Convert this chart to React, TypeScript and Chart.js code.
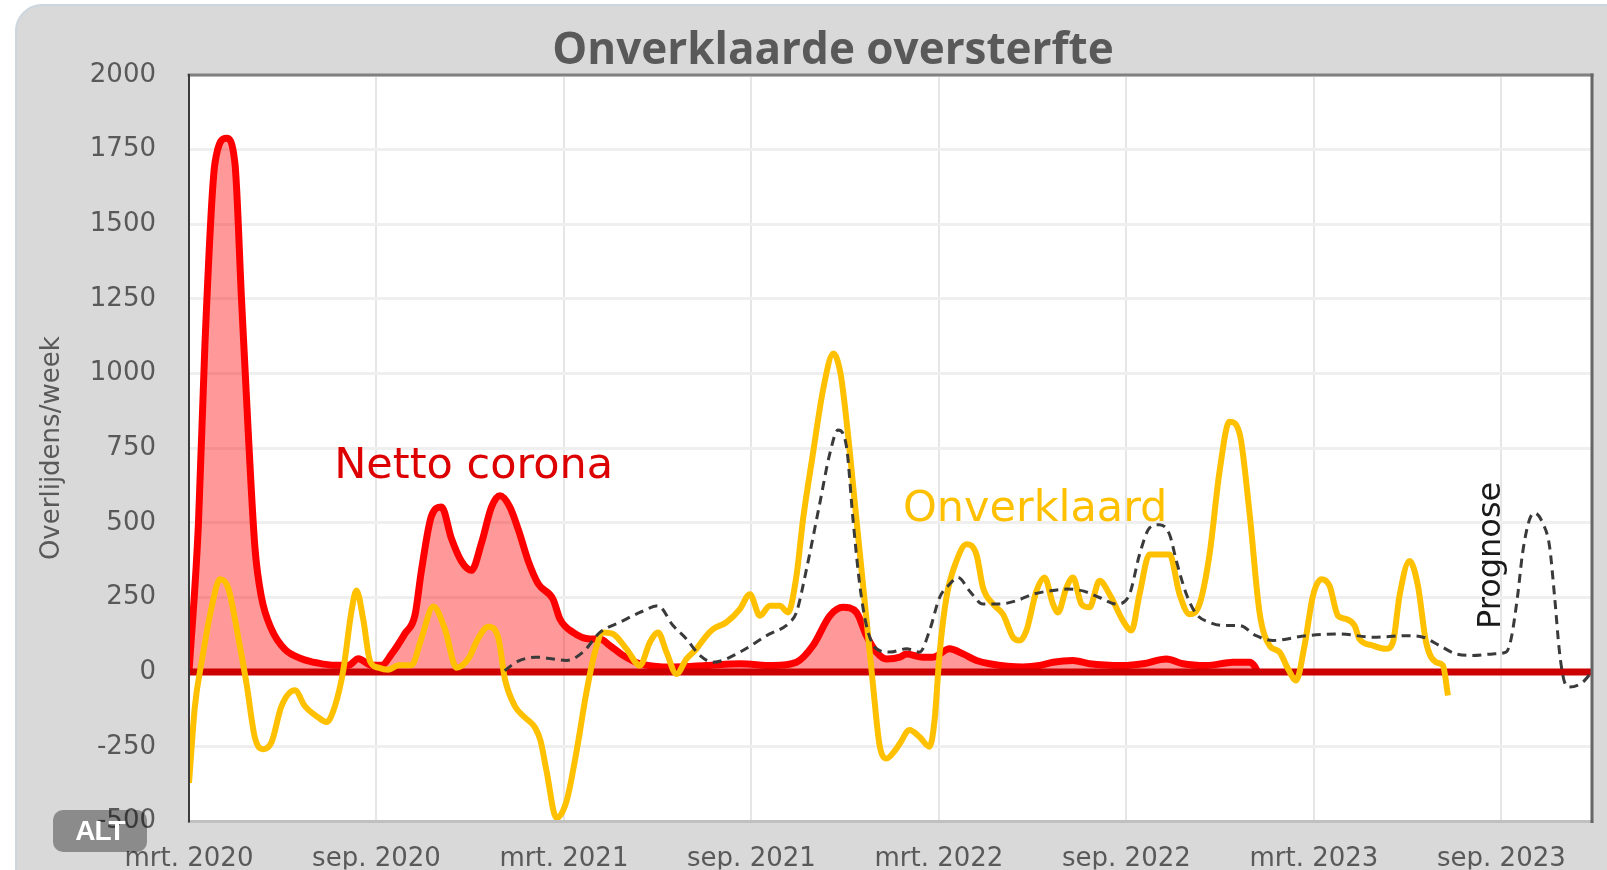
import React, { useEffect, useRef } from "react";
import { Chart, registerables } from "chart.js";

Chart.register(...registerables);

// x = months since March 2020, y = deaths per week
const tickMonths = [0, 6, 12, 18, 24, 30, 36, 42];
const tickLabels = ["mrt. 2020", "sep. 2020", "mrt. 2021", "sep. 2021", "mrt. 2022", "sep. 2022", "mrt. 2023", "sep. 2023"];

const nettoCorona: [number, number][] = [
  [0, 0], [0.3, 492], [0.51, 1098], [0.83, 1704], [1.2, 1788], [1.47, 1704], [1.68, 1250], [1.9, 795],
  [2.11, 417], [2.32, 250], [2.64, 144], [3.07, 76], [3.6, 45], [4.14, 30], [4.67, 23], [5.1, 23],
  [5.42, 45], [5.84, 23], [6.16, 23], [6.48, 60], [6.91, 129], [7.23, 190], [7.44, 341], [7.76, 523],
  [8.08, 553], [8.4, 447], [8.72, 371], [9.04, 341], [9.36, 432], [9.68, 553], [9.95, 591], [10.27, 553],
  [10.54, 477], [10.86, 371], [11.18, 295], [11.65, 244], [11.87, 178], [12.29, 133], [12.83, 111],
  [13.15, 111], [13.47, 89], [13.89, 56], [14.43, 28], [15.49, 17], [16.56, 22], [17.63, 28], [18.69, 22],
  [19.44, 33], [19.97, 89], [20.51, 189], [20.93, 217], [21.36, 200], [21.68, 122], [22.0, 67], [22.32, 44],
  [22.75, 50], [22.96, 61], [23.49, 50], [23.81, 50], [24.34, 78], [24.77, 61], [25.2, 39], [25.62, 28],
  [26.69, 17], [27.22, 22], [27.65, 33], [28.29, 39], [28.82, 28], [29.89, 22], [30.53, 28], [31.28, 44],
  [31.81, 28], [32.56, 22], [33.41, 33], [33.94, 33], [34.1, 20], [34.2, 0],
];

const onverklaard: [number, number][] = [
  [0, -371], [0.19, -114], [0.41, 38], [0.73, 220], [0.99, 311], [1.26, 280], [1.58, 114], [1.84, -38],
  [2.11, -220], [2.38, -258], [2.64, -235], [2.96, -114], [3.39, -61], [3.71, -114], [4.14, -152],
  [4.4, -167], [4.67, -114], [4.94, 8], [5.2, 205], [5.36, 273], [5.58, 174], [5.79, 38], [6.06, 15],
  [6.38, 8], [6.7, 23], [7.12, 23], [7.44, 114], [7.82, 220], [8.19, 144], [8.56, 15], [8.94, 45],
  [9.26, 114], [9.58, 152], [9.9, 114], [10.11, -23], [10.43, -114], [10.75, -152], [11.07, -185],
  [11.25, -230], [11.44, -330], [11.76, -489], [12.08, -433], [12.4, -267], [12.72, -67], [12.99, 67],
  [13.25, 133], [13.57, 128], [14.0, 78], [14.43, 22], [14.75, 100], [15.01, 133], [15.28, 67], [15.6, -6],
  [15.92, 44], [16.24, 78], [16.56, 122], [16.77, 144], [17.2, 167], [17.63, 211], [17.95, 261],
  [18.27, 189], [18.59, 222], [18.91, 222], [19.17, 200], [19.44, 322], [19.65, 511], [19.97, 733],
  [20.3, 950], [20.62, 1067], [20.85, 1000], [21.04, 844], [21.36, 511], [21.68, 178], [21.89, -44],
  [22.1, -244], [22.32, -289], [22.64, -256], [22.75, -239], [23.06, -194], [23.38, -217], [23.7, -250],
  [23.86, -161], [24.02, 61], [24.24, 250], [24.56, 372], [24.88, 428], [25.2, 394], [25.41, 283],
  [25.73, 228], [26.05, 194], [26.37, 117], [26.58, 106], [26.8, 139], [27.12, 272], [27.38, 317],
  [27.65, 228], [27.81, 200], [28.08, 283], [28.29, 317], [28.56, 228], [28.82, 217], [29.14, 306],
  [29.46, 261], [29.89, 172], [30.16, 139], [30.42, 261], [30.74, 394], [31.06, 394], [31.38, 394],
  [31.7, 261], [32.02, 194], [32.34, 228], [32.66, 394], [32.98, 672], [33.3, 839], [33.62, 800],
  [33.94, 533], [34.26, 200], [34.58, 89], [34.9, 67], [35.17, 11], [35.43, -28], [35.7, 89], [35.97, 256],
  [36.24, 311], [36.5, 289], [36.77, 189], [37.03, 178], [37.3, 156], [37.46, 111], [37.89, 89],
  [38.31, 78], [38.53, 100], [38.74, 256], [39.06, 372], [39.33, 289], [39.59, 100], [39.91, 33],
  [40.13, 22], [40.29, -78],
];

const prognose: [number, number][] = [
  [10.1, 5], [10.5, 35], [11.1, 50], [11.6, 45], [12.08, 39], [12.61, 67], [13.15, 133], [13.79, 167],
  [14.43, 200], [15.01, 222], [15.49, 156], [15.92, 111], [16.35, 56], [16.77, 33], [17.63, 67],
  [18.48, 122], [19.23, 167], [19.44, 200], [19.76, 344], [20.19, 567], [20.51, 733], [20.77, 811],
  [21.04, 756], [21.25, 511], [21.47, 289], [21.68, 156], [22.0, 78], [22.43, 67], [22.96, 78],
  [23.38, 67], [23.7, 139], [24.02, 250], [24.34, 294], [24.61, 317], [24.98, 272], [25.41, 228],
  [25.94, 228], [26.48, 239], [27.01, 261], [27.54, 272], [28.08, 278], [28.61, 272], [29.14, 250],
  [29.68, 228], [30.1, 261], [30.42, 394], [30.74, 483], [31.06, 494], [31.38, 461], [31.6, 372],
  [31.92, 261], [32.24, 194], [32.66, 167], [33.09, 156], [33.62, 156], [34.15, 122], [34.69, 106],
  [35.75, 122], [36.82, 128], [37.89, 117], [38.95, 122], [39.49, 117], [40.02, 89], [40.55, 61],
  [41.09, 56], [41.73, 61], [42.15, 67], [42.31, 111], [42.52, 256], [42.68, 400], [42.9, 511],
  [43.06, 533], [43.32, 500], [43.54, 422], [43.7, 256], [43.86, 67], [44.02, -33], [44.18, -50],
  [44.61, -33], [44.93, 6],
];

const zeroLine: [number, number][] = [[0, 0], [44.9, 0]];

const X_MIN = 0;
const X_MAX = 44.9;
const Y_MIN = -500;
const Y_MAX = 2000;

const toPts = (a: [number, number][]) => a.map(([x, y]) => ({ x, y }));

const decorPlugin = {
  id: "decor",
  beforeDraw(chart: any) {
    const ctx = chart.ctx;
    const { left, top, right, bottom } = chart.chartArea;
    ctx.save();
    ctx.beginPath();
    ctx.roundRect(16, 5, chart.width + 60, chart.height + 60, 26);
    ctx.fillStyle = "#d9d9d9";
    ctx.fill();
    ctx.lineWidth = 2;
    ctx.strokeStyle = "#cdd6de";
    ctx.stroke();
    ctx.fillStyle = "#ffffff";
    ctx.fillRect(left, top, right - left, bottom - top);
    ctx.restore();
  },
  afterDraw(chart: any) {
    const ctx = chart.ctx;
    const { left, top, right, bottom } = chart.chartArea;
    const xs = chart.scales.x;
    const ys = chart.scales.y;
    ctx.save();
    // plot border
    ctx.lineCap = "square";
    ctx.strokeStyle = "#c0c0c0";
    ctx.lineWidth = 3;
    ctx.beginPath(); ctx.moveTo(left, bottom); ctx.lineTo(right, bottom); ctx.stroke();
    ctx.strokeStyle = "#808080";
    ctx.beginPath(); ctx.moveTo(left, top); ctx.lineTo(right, top); ctx.stroke();
    ctx.strokeStyle = "#666666";
    ctx.lineWidth = 3;
    ctx.beginPath(); ctx.moveTo(right, top); ctx.lineTo(right, bottom); ctx.stroke();
    ctx.strokeStyle = "#3c3c3c";
    ctx.lineWidth = 2;
    ctx.beginPath(); ctx.moveTo(left, top); ctx.lineTo(left, bottom); ctx.stroke();

    // title
    ctx.fillStyle = "#595959";
    ctx.font = 'bold 44px "Open Sans"';
    ctx.textAlign = "center";
    ctx.textBaseline = "middle";
    ctx.fillText("Onverklaarde oversterfte", 833, 51);

    // annotations
    ctx.font = '43px "DejaVu Sans"';
    ctx.fillStyle = "#dd0000";
    ctx.fillText("Netto corona", xs.getPixelForValue(9.11), ys.getPixelForValue(689));
    ctx.fillStyle = "#ffc000";
    ctx.fillText("Onverklaard", xs.getPixelForValue(27.08), ys.getPixelForValue(545));

    ctx.translate(xs.getPixelForValue(41.7), ys.getPixelForValue(391));
    ctx.rotate(-Math.PI / 2);
    ctx.fillStyle = "#1a1a1a";
    ctx.font = '32px "DejaVu Sans"';
    ctx.fillText("Prognose", 0, 0);
    ctx.restore();
  },
};

export default function App() {
  const ref = useRef<HTMLCanvasElement | null>(null);
  useEffect(() => {
    if (!ref.current) return;
    const chart = new Chart(ref.current, {
      type: "line",
      data: {
        datasets: [
          {
            label: "Prognose",
            data: toPts(prognose),
            borderColor: "#3a3a3a",
            borderWidth: 3,
            borderDash: [9, 6],
            pointRadius: 0,
            fill: false,
            cubicInterpolationMode: "monotone",
            order: 0,
          },
          {
            label: "Onverklaard",
            data: toPts(onverklaard),
            borderColor: "#ffc000",
            borderWidth: 6,
            pointRadius: 0,
            fill: false,
            cubicInterpolationMode: "monotone",
            order: 1,
          },
          {
            label: "Nul",
            data: toPts(zeroLine),
            borderColor: "#cc0000",
            borderWidth: 7,
            pointRadius: 0,
            fill: false,
            order: 2,
          },
          {
            label: "Netto corona",
            data: toPts(nettoCorona),
            borderColor: "#ff0000",
            backgroundColor: "rgba(255,0,0,0.4)",
            borderWidth: 7,
            pointRadius: 0,
            fill: "origin",
            cubicInterpolationMode: "monotone",
            order: 3,
          },
        ],
      },
      options: {
        animation: false,
        responsive: true,
        maintainAspectRatio: false,
        devicePixelRatio: 1,
        layout: { padding: { left: 0, right: 15, top: 75, bottom: 0 } },
        plugins: { legend: { display: false }, tooltip: { enabled: false }, title: { display: false } },
        scales: {
          x: {
            type: "linear",
            min: X_MIN,
            max: X_MAX,
            afterBuildTicks: (scale: any) => {
              scale.ticks = tickMonths.map((v) => ({ value: v }));
            },
            afterFit: (scale: any) => {
              scale.height = 48;
            },
            ticks: {
              autoSkip: false,
              maxRotation: 0,
              padding: 22,
              color: "#595959",
              font: { family: "DejaVu Sans", size: 26 },
              callback: (v: any) => {
                const i = tickMonths.indexOf(Number(v));
                return i >= 0 ? tickLabels[i] : "";
              },
            },
            grid: { color: "#e6e6e6", lineWidth: 2, drawTicks: false },
            border: { display: false },
          },
          y: {
            min: Y_MIN,
            max: Y_MAX,
            afterFit: (scale: any) => {
              scale.width = 189;
            },
            ticks: {
              stepSize: 250,
              padding: 33,
              color: "#595959",
              font: { family: "DejaVu Sans", size: 26 },
              callback: (v: any) => String(v),
            },
            grid: { color: "#efefef", lineWidth: 3, drawTicks: false },
            border: { display: false },
            title: {
              display: true,
              text: "Overlijdens/week",
              color: "#595959",
              font: { family: "DejaVu Sans", size: 26 },
              padding: { top: 37, bottom: 0 },
            },
          },
        },
      },
      plugins: [decorPlugin],
    } as any);
    return () => chart.destroy();
  }, []);

  return (
    <div style={{ position: "fixed", left: 0, top: 0, width: 1607, height: 870, overflow: "hidden", background: "#ffffff" }}>
      <canvas ref={ref} />
      <div
        style={{
          position: "absolute",
          left: 53,
          top: 810,
          width: 94,
          height: 42,
          borderRadius: 10,
          background: "rgba(0,0,0,0.36)",
          color: "#ffffff",
          font: 'bold 28px "Liberation Sans", Arial, sans-serif',
          display: "flex",
          alignItems: "center",
          justifyContent: "center",
          letterSpacing: "-1px",
        }}
      >
        ALT
      </div>
    </div>
  );
}
